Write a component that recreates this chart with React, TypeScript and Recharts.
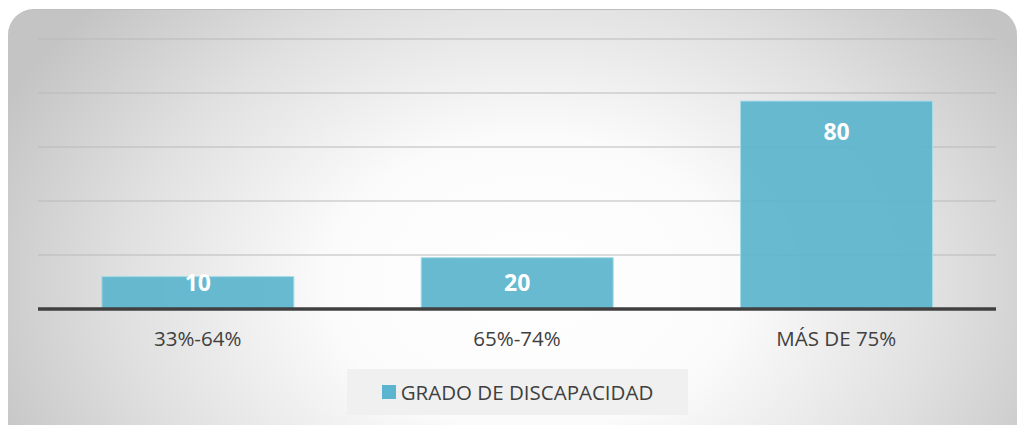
import React from "react";
import { BarChart, Bar, XAxis, YAxis, CartesianGrid, LabelList } from "recharts";

const categories = ["33%-64%", "65%-74%", "MÁS DE 75%"];
const barValues = [12, 19, 77];
const labelTexts = ["10", "20", "80"];
const yTicks = [0, 20, 40, 60, 80, 100];
const seriesName = "GRADO DE DISCAPACIDAD";

const data = categories.map((c, i) => ({ cat: c, value: barValues[i], label: labelTexts[i] }));

const FONT = "'Open Sans', 'Noto Sans', sans-serif";
const BAR_COLOR = "#5cb5ce";

const renderLabel = (props: any) => {
  const { x, y, width, height, index } = props;
  const cy = y + Math.min(30, height - 27);
  return (
    <text
      x={x + width / 2}
      y={cy}
      textAnchor="middle"
      dominantBaseline="central"
      fill="#ffffff"
      fontFamily={FONT}
      fontWeight={700}
      fontSize={23}
    >
      {labelTexts[index]}
    </text>
  );
};

export default function App() {
  return (
    <div style={{ position: "fixed", left: 0, top: 0, width: 1020, height: 425, overflow: "hidden", background: "#ffffff" }}>
      <div
        style={{
          position: "absolute",
          left: 8,
          top: 9,
          width: 1009,
          height: 440,
          borderRadius: 26,
          borderTop: "1px solid #bdbdbd",
          background:
            "radial-gradient(ellipse 58% 95% at 52% 62%, #ffffff 0%, #fbfbfb 35%, #e0e0e0 70%, #c4c4c4 100%)",
        }}
      />
      <div style={{ position: "absolute", left: 0, top: 0 }}>
        <BarChart
          width={1020}
          height={425}
          data={data}
          margin={{ top: 39, right: 24, bottom: 86, left: 38 }}
          barCategoryGap="20%"
        >
          <CartesianGrid horizontal={true} vertical={false} stroke="#bababa" strokeWidth={1.2} />
          <YAxis hide domain={[0, 100]} ticks={yTicks} />
          <XAxis
            dataKey="cat"
            height={30}
            axisLine={{ stroke: "#404040", strokeWidth: 3.5 }}
            tickLine={false}
            tickSize={0}
            tickMargin={22}
            interval={0}
            tick={{ fill: "#404040", fontSize: 20.5, fontFamily: FONT }}
          />
          <Bar
            dataKey="value"
            name={seriesName}
            fill={BAR_COLOR}
            fillOpacity={0.93}
            stroke="#a6dbe8"
            strokeWidth={1}
            isAnimationActive={false}
          >
            <LabelList dataKey="label" content={renderLabel} />
          </Bar>
        </BarChart>
      </div>
      <div
        style={{
          position: "absolute",
          left: 347,
          top: 369,
          width: 341,
          height: 46,
          background: "#f0f0f0",
          display: "flex",
          alignItems: "center",
          justifyContent: "center",
          fontFamily: FONT,
          fontSize: 20.5,
          color: "#404040",
        }}
      >
        <span style={{ width: 14, height: 14, background: BAR_COLOR, display: "inline-block", marginRight: 5 }} />
        {seriesName}
      </div>
    </div>
  );
}
